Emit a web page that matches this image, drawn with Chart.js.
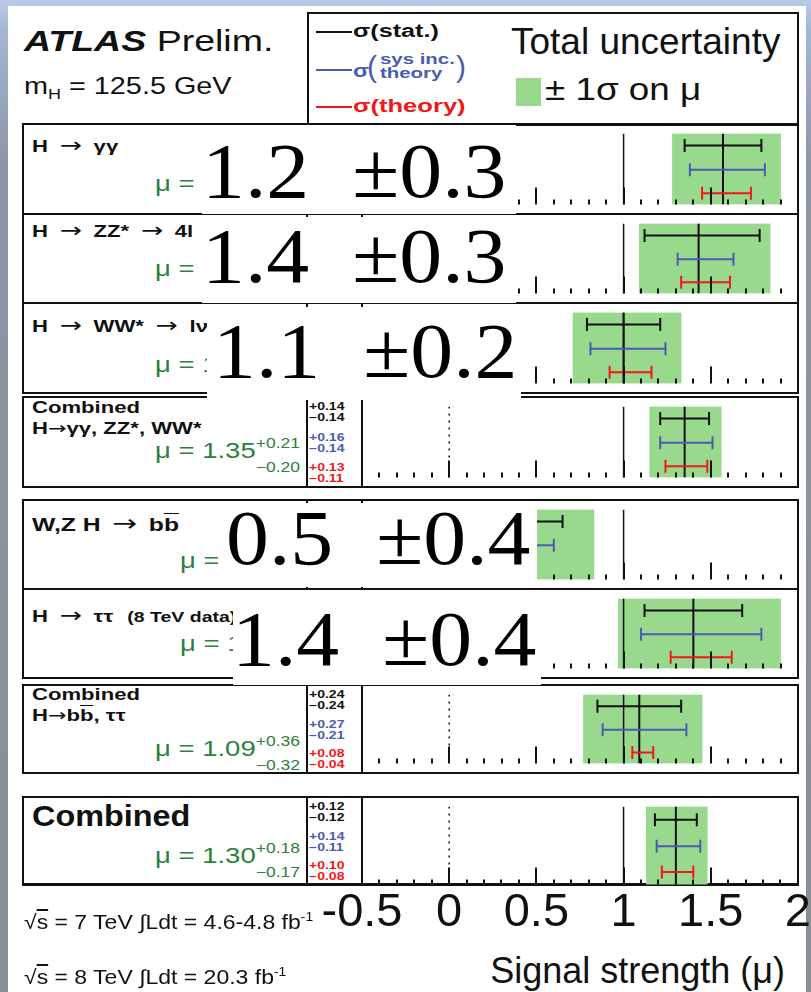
<!DOCTYPE html>
<html>
<head>
<meta charset="utf-8">
<title>Signal strength</title>
<script src="https://cdn.jsdelivr.net/npm/chart.js@4.4.1/dist/chart.umd.min.js"></script>
<style>
  html, body { margin: 0; padding: 0; }
  body {
    width: 811px; height: 992px; overflow: hidden; position: relative;
    background: linear-gradient(#b7cbe8 0, #a3b6d4 30px, #8d96a6 160px, #888d96 992px);
    font-family: "Liberation Sans", Arial, Helvetica, sans-serif; color: #111;
  }
  #sheet { position: absolute; left: 8px; top: 6px; width: 798px; height: 986px; background: #fff; }
  .abs { position: absolute; white-space: nowrap; transform-origin: left top; }
  .frame { position: absolute; left: 22px; width: 777px; border: 2px solid #111; box-sizing: border-box; }
  .vl { position: absolute; width: 2px; background: #111; }
  canvas { position: absolute; }
  .ar { font-family: "DejaVu Sans", sans-serif; font-weight: normal; font-size: 1.2em; line-height: 0; margin: 0 9px; }
  .arc { font-family: "DejaVu Sans", sans-serif; font-weight: normal; }
  .title { font-weight: bold; font-size: 17px; line-height: 20px; transform: scaleX(1.3); }
  .title small { font-size: 15px; margin-left: 6px; }
  .ov { text-decoration: overline; }
  .mu { color: #2c7f3c; font-size: 22px; line-height: 22px; text-align: right;
        transform: scaleX(1.25); transform-origin: right top; }
  .ud { display: inline-block; font-size: 14px; line-height: 24px; vertical-align: -14px; text-align: right; }
  .ud span { display: block; }
  .errs { font-size: 10px; font-weight: bold; line-height: 11px; transform: scaleX(1.4); }
  .stamp { position: absolute; background: #fff; overflow: hidden; }
  .stamp span { position: absolute; white-space: pre; color: #000; transform: scaleX(1.1); transform-origin: left top;
    font-family: "Liberation Serif", "Times New Roman", serif; font-size: 78px; line-height: 78px; }
</style>
</head>
<body>
<div id="sheet"></div>
<script>
// =======================
// Signal strength per channel (mu), with stat / syst / theory errors
// =======================

const AR = '<span class="ar">→</span>';
const ARC = '<span class="arc">→</span>';
const channelTitles = [
  'H' + AR + 'γγ',
  'H' + AR + 'ZZ*' + AR + '4l',
  'H' + AR + 'WW*' + AR + 'lνlν',
  'Combined<br>H' + ARC + 'γγ, ZZ*, WW*',
  'W,Z H' + AR + 'b<span class="ov">b</span>',
  'H' + AR + 'ττ <small>(8 TeV data)</small>',
  'Combined<br>H' + ARC + 'b<span class="ov">b</span>, ττ',
  'Combined'
];
const mu     = [1.57, 1.43, 1.00, 1.35, 0.20, 1.40, 1.09, 1.30];
const totUp  = [0.33, 0.41, 0.33, 0.21, 0.63, 0.50, 0.36, 0.18];
const totDn  = [0.29, 0.34, 0.29, 0.20, 0.75, 0.43, 0.32, 0.17];
const statUp = [0.22, 0.35, 0.21, 0.14, 0.45, 0.28, 0.24, 0.12];
const statDn = [0.22, 0.31, 0.21, 0.14, 0.45, 0.28, 0.24, 0.12];
const sysUp  = [0.24, 0.20, 0.24, 0.16, 0.40, 0.39, 0.27, 0.14];
const sysDn  = [0.19, 0.12, 0.19, 0.14, 0.40, 0.30, 0.21, 0.11];
const thUp   = [0.16, 0.18, 0.16, 0.13, 0.10, 0.22, 0.08, 0.10];
const thDn   = [0.12, 0.10, 0.08, 0.11, 0.05, 0.13, 0.04, 0.08];
const muDecimals = [2, 2, 2, 2, 1, 1, 2, 2];
const xTicks = [-0.5, 0, 0.5, 1, 1.5, 2];

// rounded summary stickers pasted over the single-channel rows
const stampText = ['1.2  ±0.3', '1.4  ±0.3', '1.1  ±0.2', '0.5  ±0.4', '1.4  ±0.4'];

// ---------- layout (px) ----------
const panelTop    = [124, 214, 303, 397, 500, 589, 685, 797];
const panelBottom = [214, 303, 393, 487, 589, 678, 773, 885];
const titleCapTop = [18, 13, 19, 6, 21, 23, 5, 11];
const titleSize   = [17, 17, 17, 17, 19, 17, 17, 30];
const muBaseline  = [69, 64, 71, 63, 70, 64, 73, 68];
const rowY = [0.17, 0.51, 0.84];   // stat, syst, theory rows (fraction of panel height)
const stampBox = [
  [202, 125, 314, 89, 0, 7],
  [202, 217, 314, 86, 0, 0],
  [207, 307, 314, 93, 6, 5],
  [218, 503, 319, 84, 8, -4],
  [233, 590, 308, 95, -1, 10]
];

const INK = '#111', BLUE = '#4a5bb0', RED = '#f01818', BAND = '#99d98d';
Chart.defaults.font.family = '"Liberation Sans", Arial, sans-serif';

function put(tag, cls, css, html) {
  const e = document.createElement(tag);
  if (cls) e.className = cls;
  e.style.cssText = css;
  if (html !== undefined) e.innerHTML = html;
  document.body.appendChild(e);
  return e;
}
const fmt = (v, d) => v.toFixed(d);

// ===============================
// Header: ATLAS label + legend box
// ===============================
put('div', 'abs', 'left:24px;top:23px;font-size:30px;line-height:36px;transform:scaleX(1.25)',
    '<b><i>ATLAS</i></b> Prelim.');
put('div', 'abs', 'left:24px;top:72px;font-size:24px;line-height:28px;transform:scaleX(1.2)',
    'm<sub style="font-size:15px;vertical-align:-5px">H</sub> = 125.5 GeV');

put('div', 'frame', 'left:307px;top:12px;width:492px;height:114px');
put('div', 'abs', 'left:316px;top:31px;width:36px;height:2px;background:' + INK);
put('div', 'abs', 'left:316px;top:69px;width:36px;height:2px;background:' + BLUE);
put('div', 'abs', 'left:316px;top:106px;width:36px;height:2px;background:' + RED);
put('div', 'abs', 'left:353px;top:20px;font-size:18px;font-weight:bold;line-height:22px;transform:scaleX(1.4)', 'σ(stat.)');
put('div', 'abs', 'left:353px;top:60px;font-size:18px;font-weight:bold;line-height:22px;transform:scaleX(1.3);color:' + BLUE, 'σ');
put('div', 'abs', 'left:367px;top:50px;font-size:30px;line-height:34px;color:' + BLUE, '(');
put('div', 'abs', 'left:380px;top:52px;font-size:15px;font-weight:bold;line-height:14px;transform:scaleX(1.36);color:' + BLUE,
    'sys inc.<br>theory');
put('div', 'abs', 'left:456px;top:50px;font-size:30px;line-height:34px;color:' + BLUE, ')');
put('div', 'abs', 'left:353px;top:95px;font-size:18px;font-weight:bold;line-height:22px;transform:scaleX(1.42);color:' + RED, 'σ(theory)');
put('div', 'abs', 'left:511px;top:22px;font-size:37px;line-height:40px', 'Total uncertainty');
put('div', 'abs', 'left:516px;top:78px;width:25px;height:28px;background:' + BAND);
put('div', 'abs', 'left:545px;top:70px;font-size:32px;line-height:38px;transform:scaleX(1.15)', '± 1σ on μ');

// ===============================
// Tick marks along the bottom of every panel
// ===============================
const tickMarks = {
  id: 'tickMarks',
  afterDatasetsDraw(chart) {
    const { ctx, chartArea, scales } = chart;
    ctx.save();
    ctx.strokeStyle = INK;
    ctx.lineWidth = 2;
    for (let k = 0; k <= 25; k++) {
      const px = Math.round(scales.x.getPixelForValue(-0.5 + k * 0.1));
      const len = k % 5 === 0 ? 17 : 5;
      ctx.beginPath();
      ctx.moveTo(px, chartArea.bottom);
      ctx.lineTo(px, chartArea.bottom - len);
      ctx.stroke();
    }
    ctx.restore();
  }
};

function refLine(x, dash) {
  return { type: 'line', data: [{ x: x, y: 0 }, { x: x, y: 1 }], borderColor: INK,
           borderWidth: 1.5, borderDash: dash, pointRadius: 0, order: 3 };
}

function errBar(m, dn, up, y, color) {
  return { type: 'line', data: [{ x: m - dn, y: y }, { x: m + up, y: y }],
           borderColor: color, borderWidth: 2, pointStyle: 'line', pointRotation: 90,
           pointRadius: 6.5, pointBorderColor: color, pointBorderWidth: 2, order: 1 };
}

// ===============================
// One framed panel per channel
// ===============================
function buildPanel(i) {
  const t = panelTop[i], b = panelBottom[i];
  const last = i === mu.length - 1;

  put('div', 'frame', 'top:' + (t - 1) + 'px;height:' + (b - t + 2) + 'px' +
      (last ? ';border-bottom-width:3px' : ''));
  put('div', 'vl', 'left:306px;top:' + t + 'px;height:' + (b - t) + 'px;width:1.5px');
  put('div', 'vl', 'left:361px;top:' + t + 'px;height:' + (b - t) + 'px');

  // channel name
  const fs = titleSize[i];
  put('div', 'abs title', 'left:32px;top:' + (t + titleCapTop[i] - 0.19 * fs - (last ? 4 : 2)) +
      'px;font-size:' + fs + 'px;line-height:' + (last ? 36 : 20) + 'px' +
      (last ? ';transform:scaleX(1.08)' : ''), channelTitles[i]);

  // mu = value (+up / -down)
  const d = muDecimals[i];
  put('div', 'abs mu', 'right:' + (811 - 300) + 'px;top:' + (t + muBaseline[i] - 29) + 'px',
      'μ = ' + fmt(mu[i], d) + '<span class="ud"><span>+' + fmt(totUp[i], d) +
      '</span><span>−' + fmt(totDn[i], d) + '</span></span>');

  // stat / syst / theory numbers next to the plot
  const h = b - t;
  [[statUp, statDn, INK], [sysUp, sysDn, BLUE], [thUp, thDn, RED]].forEach((e, r) => {
    const cy = t + rowY[r] * h;
    put('div', 'abs errs', 'left:309px;top:' + Math.round(cy - 11) + 'px;color:' + e[2],
        '+' + fmt(e[0][i], 2) + '<br>−' + fmt(e[1][i], 2));
  });

  // the plot itself
  const top = t + 1, ih = b - t - 2;
  const canvas = document.createElement('canvas');
  const extra = last ? 57 : 0;
  canvas.width = 811 - 312;
  canvas.height = ih + extra;
  canvas.style.left = '312px';
  canvas.style.top = top + 'px';
  canvas.style.width = canvas.width + 'px';
  canvas.style.height = canvas.height + 'px';
  document.body.appendChild(canvas);

  new Chart(canvas, {
    type: 'scatter',
    data: {
      datasets: [
        { type: 'bar', indexAxis: 'y', xAxisID: 'x', yAxisID: 'band',
          data: [{ x: [mu[i] - totDn[i], mu[i] + totUp[i]], y: 'tot' }],
          backgroundColor: BAND, borderWidth: 0, barPercentage: 1, categoryPercentage: 1, order: 5 },
        refLine(0, [2, 5]),
        refLine(1, []),
        { type: 'line', data: [{ x: mu[i], y: 0 }, { x: mu[i], y: 1 }], borderColor: INK,
          borderWidth: 2, pointRadius: 0, order: 2 },
        errBar(mu[i], statDn[i], statUp[i], rowY[0], INK),
        errBar(mu[i], sysDn[i], sysUp[i], rowY[1], BLUE),
        errBar(mu[i], thDn[i], thUp[i], rowY[2], RED)
      ]
    },
    options: {
      responsive: false,
      animation: false,
      events: [],
      layout: { padding: { left: 50, right: 13, top: 0, bottom: 0 } },
      plugins: { legend: { display: false }, tooltip: { enabled: false } },
      scales: {
        x: {
          type: 'linear', min: -0.5, max: 2, display: last,
          grid: { display: false, drawTicks: false },
          border: { display: false },
          afterBuildTicks: s => { s.ticks = xTicks.map(v => ({ value: v })); },
          ticks: { color: INK, padding: 0, autoSkip: false, maxRotation: 0, minRotation: 0,
                   font: { size: 47 }, callback: v => String(v) }
        },
        y: { type: 'linear', min: 0, max: 1, reverse: true, display: false },
        band: { type: 'category', labels: ['tot'], offset: true, display: false }
      }
    },
    plugins: [tickMarks]
  });
}

for (let i = 0; i < mu.length; i++) buildPanel(i);

// stickers on top
stampBox.forEach((s, k) => {
  const box = put('div', 'stamp', 'left:' + s[0] + 'px;top:' + s[1] + 'px;width:' + s[2] +
                  'px;height:' + s[3] + 'px');
  const sp = document.createElement('span');
  sp.style.left = s[4] + 'px';
  sp.style.top = s[5] + 'px';
  sp.textContent = stampText[k];
  box.appendChild(sp);
});

// ===============================
// Axis title and run conditions
// ===============================
put('div', 'abs', 'right:26px;top:950px;font-size:36px;line-height:42px', 'Signal strength (μ)');
put('div', 'abs', 'left:24px;top:904px;font-size:20px;line-height:26px;transform:scaleX(1.15)',
    '√<span class="ov">s</span> = 7 TeV ∫Ldt = 4.6-4.8 fb<sup style="font-size:12px">-1</sup>');
put('div', 'abs', 'left:24px;top:959px;font-size:20px;line-height:26px;transform:scaleX(1.15)',
    '√<span class="ov">s</span> = 8 TeV ∫Ldt = 20.3 fb<sup style="font-size:12px">-1</sup>');
</script>
</body>
</html>
